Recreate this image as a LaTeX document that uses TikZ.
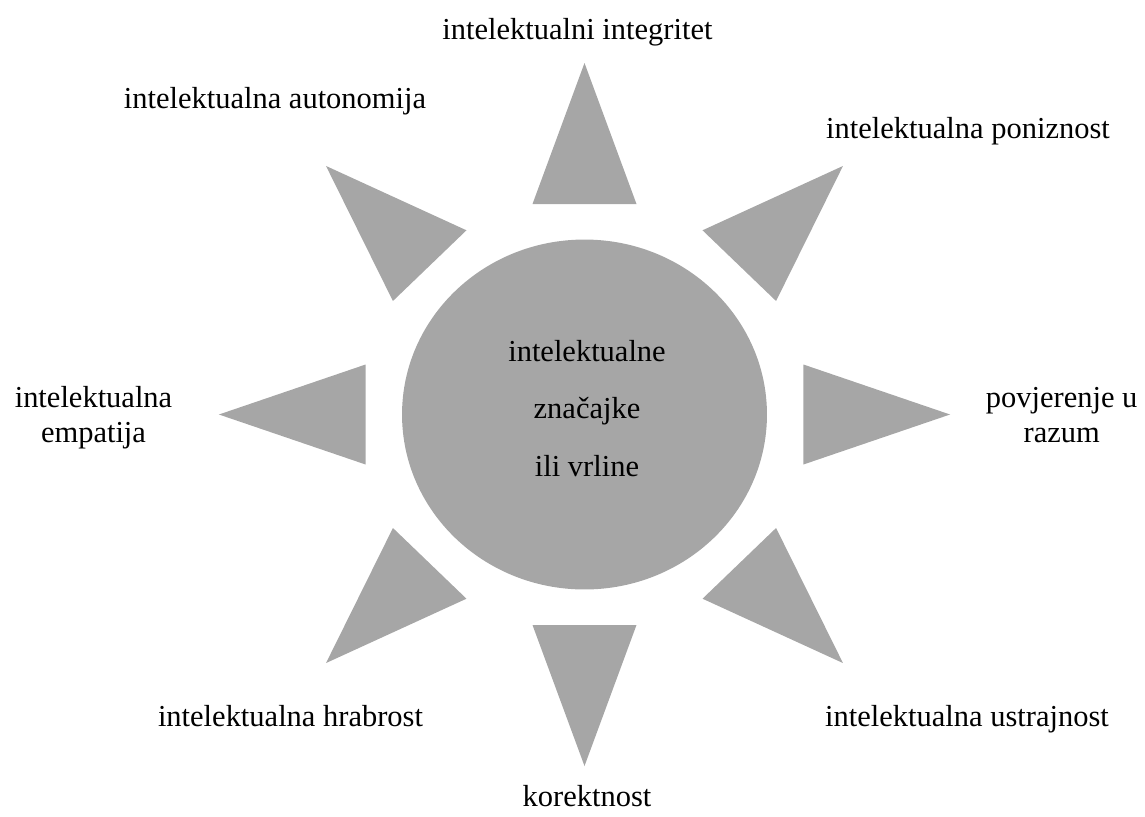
\documentclass[tikz,border=0pt]{standalone}
\usepackage{fontspec}
\setmainfont{Liberation Serif}
\usetikzlibrary{shapes.geometric}
\definecolor{petalgray}{RGB}{166,166,166}
\begin{document}
\begin{tikzpicture}[x=0.02cm,y=0.02cm,
  petal/.style={fill=petalgray},
  lbl/.style={font=\fontsize{17.35}{19.8}\selectfont, align=center, anchor=base, inner sep=0pt},
  corelbl/.style={font=\fontsize{17.35}{32.6}\selectfont, align=center, anchor=base, inner sep=0pt},
  core/.style={ellipse, fill=petalgray, minimum width=7.3cm, minimum height=7cm, inner sep=0pt}]
\useasboundingbox (-584.5,-401.5) rectangle (560.5,414.5);
% central disc (multi-line nodes sit on the baseline of their last line)
\node[core] (core) at (0,0) {};
\node[corelbl] (coretext) at (2.5,-61.5) {intelektualne\\značajke\\ili vrline};
% eight rays around the disc
\foreach \a in {0,45,...,315}
  \fill[petal, xscale=1.04, rotate=\a] (-50,210.5) -- (50,210.5) -- (0,351.5) -- cycle;
% labels of the rays
\node[lbl] (integ) at (-7,375.5) {intelektualni integritet};
\node[lbl] (auton) at (-309.5,306) {intelektualna autonomija};
\node[lbl] (ponizn) at (383.5,276.5) {intelektualna poniznost};
\node[lbl] (empat) at (-491,-27.5) {intelektualna\\empatija};
\node[lbl] (razum) at (477.2,-27.5) {povjerenje u\\razum};
\node[lbl] (hrab) at (-294,-311.5) {intelektualna hrabrost};
\node[lbl] (ustraj) at (382.5,-311.5) {intelektualna ustrajnost};
\node[lbl] (korekt) at (2.5,-391.5) {korektnost};
\end{tikzpicture}
\end{document}
